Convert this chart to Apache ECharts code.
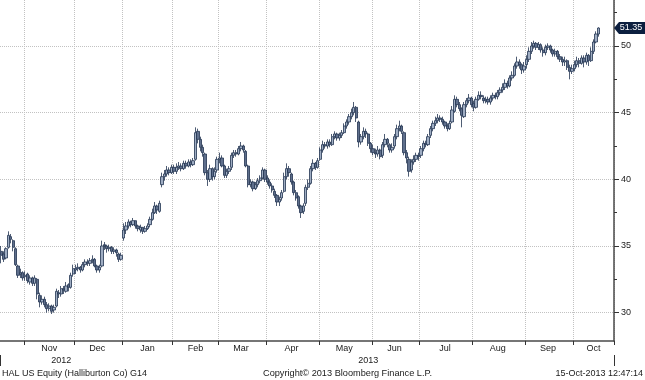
<!DOCTYPE html>
<html><head><meta charset="utf-8">
<script src="https://cdn.jsdelivr.net/npm/echarts@6/dist/echarts.min.js"></script>
<style>html,body{margin:0;padding:0;background:#fff}#c{width:645px;height:380px}</style>
</head><body><div id="c"></div>
<script>
// ---------- DATA (HAL US Equity, daily OHLC, 16-Oct-2012 .. 15-Oct-2013) ----------
const marketHolidays = ['2012-10-29','2012-10-30','2012-11-22','2012-12-25','2013-01-01','2013-01-21',
  '2013-02-18','2013-03-29','2013-05-27','2013-07-04','2013-09-02'];
const firstTradingDay = '2012-10-16';
const emptyDaysAfter = 6;   // blank sessions at right edge of the plot
const monthNames = ['Jan','Feb','Mar','Apr','May','Jun','Jul','Aug','Sep','Oct','Nov','Dec'];
const yTickValues = [30,35,40,45,50];

const openVals = [
 34.6,34.4,34.1,34.9,35.7,35.4,34.8,33.5,32.9,33.0,
 32.7,32.9,32.3,32.6,32.2,32.5,31.3,30.8,31.0,30.6,30.3,30.5,30.2,30.5,31.5,31.4,31.8,31.6,32.1,31.9,32.9,
 33.2,33.3,33.4,33.2,33.6,33.8,33.7,33.9,34.0,33.5,33.2,33.5,35.1,35.0,34.8,34.9,34.6,34.7,34.4,34.0,
 35.6,36.2,36.5,36.8,36.6,36.9,36.5,36.2,36.4,36.1,36.3,36.6,37.0,37.5,38.0,37.6,39.6,40.2,40.4,40.7,40.5,
 40.9,40.6,40.9,41.0,40.8,41.2,41.0,41.3,41.1,41.5,43.6,43.0,42.4,41.9,40.5,40.0,40.8,40.2,40.7,
 41.5,41.6,41.0,40.3,40.6,40.9,41.8,42.0,41.9,42.3,42.5,42.1,41.0,39.6,39.8,39.3,39.6,39.9,40.1,40.7,
 40.1,39.8,39.5,39.1,38.8,38.3,38.6,39.1,40.2,40.8,40.4,39.8,39.0,38.7,38.0,37.6,38.2,39.4,39.7,40.8,41.2,40.9,
 41.5,42.2,42.6,42.5,42.8,42.6,43.2,43.4,43.1,43.3,43.5,44.0,44.3,44.7,45.0,45.4,44.3,42.8,43.2,43.6,43.4,42.7,
 42.3,42.0,41.9,42.2,41.8,42.6,43.0,42.6,42.2,42.5,43.2,43.8,44.0,43.5,42.0,41.5,40.7,41.3,41.5,41.8,
 41.8,42.3,42.7,42.6,43.3,43.8,44.2,44.4,44.6,44.5,44.3,44.0,43.8,44.3,45.1,46.0,45.6,45.3,44.7,45.6,45.9,46.1,
 45.7,45.4,46.0,46.3,46.1,45.9,46.0,45.8,46.1,46.3,46.2,46.5,46.7,46.9,47.2,47.0,47.6,47.8,48.5,48.8,48.6,48.2,
 48.6,49.0,49.6,50.0,50.2,49.9,50.1,49.7,49.5,49.9,50.0,49.7,49.4,49.6,49.2,49.0,48.8,48.9,48.4,48.1,
 48.3,48.6,48.9,48.7,49.1,48.8,49.3,48.9,49.6,50.3,50.9
];
const closeVals = [
 34.3,34.0,34.8,35.8,35.5,34.9,33.6,32.8,33.0,32.6,
 32.8,32.4,32.6,32.2,32.6,31.4,30.8,31.0,30.6,30.3,30.5,30.1,30.4,31.6,31.4,31.8,31.7,32.0,31.9,32.8,33.3,
 33.3,33.4,33.2,33.6,33.8,33.7,33.9,34.0,33.5,33.2,33.4,35.0,35.0,34.8,34.9,34.6,34.7,34.5,34.0,34.3,
 36.2,36.5,36.8,36.6,36.9,36.5,36.3,36.4,36.1,36.3,36.5,37.0,37.5,38.0,37.7,38.2,40.2,40.4,40.7,40.5,40.9,
 40.6,40.9,41.0,40.8,41.2,41.0,41.3,41.1,41.4,43.5,43.0,42.4,42.0,40.5,40.0,40.8,40.2,40.6,41.5,
 41.6,41.0,40.3,40.6,40.8,41.8,42.0,41.9,42.3,42.5,42.2,41.0,39.6,39.8,39.3,39.6,39.9,40.1,40.7,40.0,
 39.8,39.5,39.2,38.8,38.3,38.5,39.0,40.2,40.8,40.5,39.8,39.0,38.6,38.0,37.5,38.0,39.4,39.7,40.8,41.2,40.9,41.4,
 42.2,42.6,42.5,42.8,42.6,43.2,43.4,43.1,43.3,43.5,44.0,44.3,44.7,45.0,45.4,44.6,42.8,43.2,43.6,43.4,42.7,42.3,
 42.0,41.9,42.2,41.7,42.6,43.0,42.7,42.2,42.4,43.2,43.8,44.0,43.6,42.0,41.6,40.6,41.3,41.5,41.8,41.7,
 42.3,42.7,42.6,43.2,43.8,44.2,44.4,44.6,44.5,44.3,44.0,43.8,44.2,45.2,46.0,45.6,45.3,44.8,45.6,45.9,46.1,45.6,
 45.4,46.0,46.3,46.2,45.9,46.0,45.8,46.1,46.3,46.2,46.5,46.7,46.9,47.2,47.0,47.6,47.8,48.5,48.8,48.6,48.2,48.5,
 49.0,49.6,50.0,50.2,49.9,50.1,49.7,49.5,49.9,50.0,49.7,49.4,49.6,49.2,49.0,48.8,48.9,48.4,48.1,48.3,
 48.6,48.9,48.7,49.1,48.8,49.3,48.9,49.6,50.3,50.9,51.35
];
const lowVals = [
 33.7,33.8,34.0,34.8,35.2,34.6,33.5,32.6,32.6,32.4,
 32.4,32.2,32.1,32.0,32.0,31.0,30.4,30.6,30.4,30.0,30.1,29.9,30.0,30.4,31.1,31.2,31.4,31.5,31.6,31.8,32.7,
 32.9,33.1,33.0,33.1,33.4,33.5,33.5,33.7,33.4,33.0,33.0,33.4,34.7,34.5,34.6,34.4,34.4,34.2,33.8,33.9,
 35.4,35.9,36.3,36.4,36.5,36.3,36.1,36.0,35.9,36.0,36.2,36.4,36.9,37.4,37.4,37.5,39.4,39.9,40.2,40.3,40.4,
 40.4,40.4,40.7,40.6,40.7,40.8,40.9,40.9,41.0,41.4,42.7,42.1,41.7,40.3,39.5,39.8,39.9,40.0,40.5,
 41.2,40.9,40.1,40.1,40.4,40.7,41.6,41.7,41.8,42.1,42.0,40.9,39.4,39.4,39.1,39.2,39.4,39.7,40.0,39.8,
 39.6,39.3,39.0,38.6,38.0,38.0,38.4,39.0,40.0,40.2,39.6,38.8,38.4,37.8,37.1,37.4,38.0,39.2,39.6,40.6,40.7,40.8,
 41.4,42.0,42.3,42.3,42.4,42.5,43.0,42.9,42.9,43.1,43.4,43.8,44.1,44.5,44.8,44.3,42.4,42.6,43.0,43.1,42.5,42.0,
 41.8,41.6,41.7,41.5,41.6,42.4,42.4,42.0,42.0,42.3,43.0,43.6,43.4,41.8,41.2,40.2,40.5,41.1,41.3,41.4,
 41.6,42.1,42.4,42.5,43.1,43.6,44.0,44.2,44.3,44.1,43.8,43.6,43.7,44.2,45.0,45.4,45.1,43.9,44.6,45.4,45.7,45.4,
 45.1,45.3,45.9,46.0,45.7,45.7,45.6,45.6,45.9,46.0,46.0,46.3,46.5,46.7,46.8,46.9,47.4,47.7,48.3,48.3,47.9,48.0,
 48.3,48.8,49.4,49.8,49.7,49.7,49.5,49.2,49.3,49.7,49.5,49.2,49.2,49.0,48.8,48.5,48.5,48.2,47.5,47.9,
 48.1,48.4,48.4,48.6,48.4,48.6,48.5,48.8,49.4,50.2,50.7
];
const highVals = [
 35.0,34.6,34.9,36.1,35.9,35.5,34.9,33.6,33.3,33.1,
 33.1,33.0,32.8,32.7,32.8,32.6,31.5,31.3,31.2,30.8,30.7,30.6,30.6,31.8,31.7,32.0,32.0,32.3,32.2,33.0,33.6,
 33.6,33.7,33.5,33.8,34.0,34.0,34.1,34.3,34.1,33.6,33.6,35.4,35.3,35.1,35.1,35.0,34.9,34.8,34.5,34.5,
 36.7,36.8,37.0,36.9,37.1,36.9,36.6,36.6,36.4,36.5,36.7,37.2,37.8,38.3,38.1,38.4,40.5,40.7,41.0,40.9,41.1,
 41.1,41.2,41.3,41.2,41.4,41.4,41.5,41.5,41.6,43.9,43.8,43.2,42.6,42.0,40.7,41.1,40.9,40.9,41.7,
 42.0,41.8,41.1,40.8,41.0,42.0,42.2,42.2,42.5,42.8,42.6,42.2,41.1,40.0,39.9,39.8,40.1,40.3,40.9,40.8,
 40.3,40.0,39.7,39.3,38.9,38.7,39.2,40.5,41.2,41.0,40.5,39.9,39.2,38.8,38.1,38.2,39.6,40.0,41.0,41.5,41.3,41.6,
 42.4,42.9,42.8,43.0,43.0,43.4,43.6,43.5,43.5,43.7,44.2,44.5,44.9,45.3,45.8,45.5,44.4,43.4,43.9,43.8,43.5,42.8,
 42.6,42.3,42.5,42.3,42.8,43.4,43.1,42.7,42.7,43.4,44.1,44.4,44.1,43.6,42.2,41.7,41.5,41.8,42.0,42.0,
 42.5,42.9,42.9,43.4,44.0,44.4,44.7,44.9,44.8,44.7,44.4,44.2,44.4,45.5,46.3,46.2,45.8,45.4,45.8,46.1,46.4,46.2,
 45.9,46.2,46.6,46.6,46.3,46.2,46.2,46.3,46.5,46.5,46.7,46.9,47.2,47.5,47.4,47.8,48.1,48.7,49.2,49.0,48.7,48.8,
 49.3,49.9,50.3,50.4,50.3,50.3,50.2,49.9,50.1,50.2,50.1,49.8,49.8,49.7,49.4,49.2,49.2,49.0,48.6,48.6,
 48.9,49.2,49.1,49.3,49.3,49.5,49.4,49.9,50.5,51.1,51.4
];

// ---------- categories: trading sessions ----------
function buildSessions(count) {
  const out = [];
  const p = firstTradingDay.split('-').map(Number);
  const d = new Date(Date.UTC(p[0], p[1] - 1, p[2]));
  while (out.length < count) {
    const wd = d.getUTCDay();
    const s = d.toISOString().slice(0, 10);
    if (wd !== 0 && wd !== 6 && marketHolidays.indexOf(s) < 0) out.push(s);
    d.setUTCDate(d.getUTCDate() + 1);
  }
  return out;
}
const sessions = buildSessions(closeVals.length + emptyDaysAfter);
const ohlc = closeVals.map((c, i) => [openVals[i], c, lowVals[i], highVals[i]]);

// month / year groupings
const monthStart = new Set(), monthLabelIdx = {}, yearLabelIdx = {};
const yearStart = new Set();
(function () {
  const groups = [], ygroups = [];
  sessions.forEach((s, i) => {
    const m = s.slice(0, 7), y = s.slice(0, 4);
    if (!groups.length || groups[groups.length - 1].k !== m) groups.push({k: m, a: i, b: i}); else groups[groups.length - 1].b = i;
    if (!ygroups.length || ygroups[ygroups.length - 1].k !== y) ygroups.push({k: y, a: i, b: i}); else ygroups[ygroups.length - 1].b = i;
  });
  groups.forEach((g, gi) => {
    if (g.a > 0) monthStart.add(g.a);
    if (gi > 0) monthLabelIdx[Math.floor((g.a + g.b) / 2)] = monthNames[+g.k.slice(5, 7) - 1];
  });
  ygroups.forEach(g => {
    if (g.a > 0) yearStart.add(g.a);
    yearLabelIdx[Math.floor((g.a + g.b) / 2)] = g.k;
  });
})();

// ---------- layout ----------
const PX = 13.333;       // pixels per dollar
const Y50 = 46;          // pixel row of the 50 level
const AXIS_Y = 341;      // x axis line row
const PLOT_W = 614;
const FONT = '"Liberation Sans", Arial, sans-serif';
const TXT = '#1a1a1a';
const GRIDC = '#c2c2c2';

const chart = echarts.init(document.getElementById('c'), null, {renderer: 'canvas'});
const option = {
  animation: false,
  backgroundColor: '#ffffff',
  grid: [
    {left: 0, width: PLOT_W, top: -2, height: AXIS_Y + 2, outerBoundsMode: 'none', containLabel: false},
    {left: 0, width: PLOT_W, top: Y50 - 5 * PX, height: 25 * PX, outerBoundsMode: 'none', containLabel: false}
  ],
  xAxis: [
    {
      type: 'category', gridIndex: 0, data: sessions, boundaryGap: true,
      axisLine: {show: true, lineStyle: {color: '#4a4a4a', width: 1.5}},
      axisTick: {show: true, length: 4, interval: (i) => monthStart.has(i), lineStyle: {color: '#333'}},
      splitLine: {show: true, interval: (i) => monthStart.has(i), lineStyle: {color: GRIDC, type: 'dotted', width: 1}},
      axisLabel: {show: true, interval: (i) => monthLabelIdx[i] !== undefined, formatter: (v, i) => monthLabelIdx[i] || '',
        margin: 3, fontSize: 9, fontFamily: FONT, color: TXT}
    },
    {
      type: 'category', gridIndex: 0, data: sessions, boundaryGap: true, position: 'bottom', offset: 14,
      axisLine: {show: false},
      axisTick: {show: true, length: 11, interval: (i) => yearStart.has(i), lineStyle: {color: '#333'}},
      splitLine: {show: false},
      axisLabel: {show: true, interval: (i) => yearLabelIdx[i] !== undefined, formatter: (v, i) => yearLabelIdx[i] || '',
        margin: 1, fontSize: 9, fontFamily: FONT, color: TXT}
    },
    {type: 'value', gridIndex: 1, show: false, min: 0, max: 1}
  ],
  yAxis: [
    {
      type: 'value', gridIndex: 0, position: 'right',
      min: 50 - (AXIS_Y - Y50) / PX, max: 50 + (Y50 + 2) / PX,
      axisLine: {show: true, onZero: false, lineStyle: {color: '#4a4a4a', width: 1.5}},
      axisTick: {show: false}, axisLabel: {show: false}, splitLine: {show: false}
    },
    {
      type: 'value', gridIndex: 1, position: 'right', min: 30, max: 55, interval: 5,
      axisLine: {show: false, onZero: false},
      axisTick: {show: true, length: 5, lineStyle: {color: '#333'}},
      minorTick: {show: false},
      splitLine: {show: true, lineStyle: {color: GRIDC, type: 'dotted', width: 1}},
      axisLabel: {show: true, margin: 7, fontSize: 9, fontFamily: FONT, color: TXT,
        formatter: (v) => yTickValues.indexOf(v) >= 0 ? String(v) : ''}
    },
    {
      type: 'value', gridIndex: 1, position: 'right', min: 30, max: 55, interval: 2.5,
      axisLine: {show: false, onZero: false},
      axisTick: {show: true, length: 3, lineStyle: {color: '#333'}},
      axisLabel: {show: false}, splitLine: {show: false}
    }
  ],
  series: [{
    type: 'candlestick', xAxisIndex: 0, yAxisIndex: 0,
    data: ohlc, barWidth: 2.8,
    itemStyle: {color: '#9fadc3', color0: '#5f6f8c', borderColor: '#223350', borderColor0: '#223350', borderWidth: 0.8}
  }],
  graphic: [
    {type: 'text', left: 2, top: 369, style: {text: 'HAL US Equity (Halliburton Co) G14', font: '9px ' + FONT, fill: TXT}},
    {type: 'text', left: 263, top: 369, style: {text: 'Copyright\u00A9 2013 Bloomberg Finance L.P.', font: '9.2px ' + FONT, fill: TXT}},
    {type: 'text', right: 2, top: 369, style: {text: '15-Oct-2013 12:47:14', font: '9px ' + FONT, fill: TXT}}
  ]
};
chart.setOption(option);

// last-price tag positioned through the value axis
const lastClose = closeVals[closeVals.length - 1];
const yc = chart.convertToPixel({yAxisIndex: 0}, lastClose);
chart.setOption({
  graphic: option.graphic.concat([
    {type: 'polygon', shape: {points: [[PLOT_W, yc], [PLOT_W + 5, yc - 6], [645, yc - 6], [645, yc + 6], [PLOT_W + 5, yc + 6]]},
     style: {fill: '#0c1f3f'}, z: 100},
    {type: 'text', x: 631, y: yc, z: 101,
     style: {text: lastClose.toFixed(2), font: '9px ' + FONT, fill: '#ffffff', textAlign: 'center', textVerticalAlign: 'middle'}}
  ])
});
</script>
</body></html>
